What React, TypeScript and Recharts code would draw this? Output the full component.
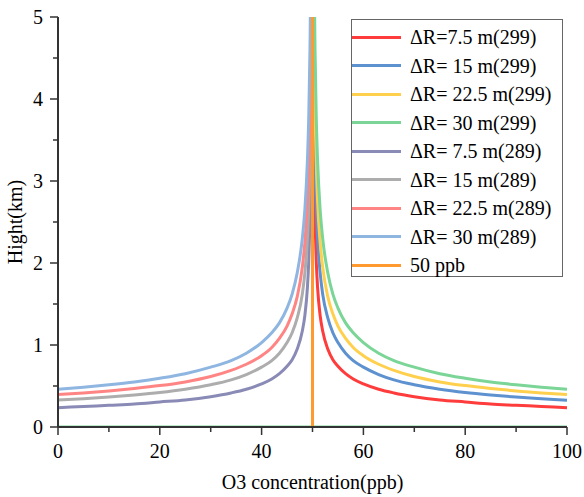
import React from 'react';
import { LineChart, Line, XAxis, YAxis, Legend } from 'recharts';

const FONT = '"Liberation Serif", "Times New Roman", Times, serif';

// distance from the 50 ppb singularity (ppb)
const distances = [0.1, 0.2, 0.3, 0.5, 0.75, 1, 1.5, 2, 3, 4, 5, 6.5, 8, 10, 13, 16, 20, 25, 30, 35, 40, 45, 50];

// heights (km), right side (299 series, x = 50 + d)
const r75_299 = [5.4, 3.9, 3.1, 2.5, 2.0, 1.7, 1.36, 1.17, 0.95, 0.82, 0.74, 0.65, 0.585, 0.525, 0.46, 0.415, 0.37, 0.33, 0.305, 0.28, 0.265, 0.25, 0.235];
const r15_299 = [7.3, 5.2, 4.2, 3.25, 2.65, 2.3, 1.88, 1.62, 1.33, 1.15, 1.03, 0.9, 0.81, 0.73, 0.64, 0.575, 0.515, 0.46, 0.42, 0.39, 0.365, 0.345, 0.325];
const r225_299 = [8.7, 6.2, 5.0, 3.9, 3.2, 2.75, 2.25, 1.95, 1.59, 1.38, 1.23, 1.08, 0.97, 0.87, 0.765, 0.69, 0.615, 0.55, 0.505, 0.47, 0.44, 0.415, 0.395];
const r30_299 = [10.3, 7.3, 5.9, 4.6, 3.75, 3.25, 2.65, 2.3, 1.88, 1.62, 1.45, 1.27, 1.15, 1.03, 0.9, 0.81, 0.73, 0.65, 0.595, 0.55, 0.515, 0.485, 0.46];

// heights (km), left side (289 series, x = 50 - d)
const r75_289 = [5.4, 3.9, 3.1, 2.5, 2.0, 1.7, 1.36, 1.17, 0.95, 0.82, 0.74, 0.65, 0.585, 0.525, 0.46, 0.415, 0.37, 0.33, 0.305, 0.28, 0.265, 0.25, 0.235];
const r15_289 = [7.3, 5.2, 4.2, 3.25, 2.65, 2.3, 1.88, 1.62, 1.33, 1.15, 1.03, 0.9, 0.81, 0.73, 0.64, 0.575, 0.515, 0.46, 0.42, 0.39, 0.365, 0.345, 0.33];
const r225_289 = [8.7, 6.2, 5.0, 3.9, 3.2, 2.75, 2.25, 1.95, 1.59, 1.38, 1.23, 1.08, 0.97, 0.87, 0.765, 0.69, 0.615, 0.55, 0.505, 0.47, 0.44, 0.415, 0.395];
const r30_289 = [10.3, 7.3, 5.9, 4.6, 3.75, 3.25, 2.65, 2.3, 1.88, 1.62, 1.45, 1.27, 1.15, 1.03, 0.9, 0.81, 0.73, 0.65, 0.595, 0.55, 0.515, 0.485, 0.46];

const zeroX = [0, 100];
const zeroY = [0, 0];
const refX = [50, 50];
const refY = [0, 5];

const seriesNames = [
  'ΔR=7.5 m(299)',
  'ΔR= 15 m(299)',
  'ΔR= 22.5 m(299)',
  'ΔR= 30 m(299)',
  'ΔR= 7.5 m(289)',
  'ΔR= 15 m(289)',
  'ΔR= 22.5 m(289)',
  'ΔR= 30 m(289)',
  '50 ppb',
];
const seriesColors = ['#FF3C3C', '#5E91CF', '#FFD04D', '#7BD597', '#8A8AB6', '#ADADAD', '#FF8585', '#8FB5E1', '#FF9A30'];

const xTicks = [0, 10, 20, 30, 40, 50, 60, 70, 80, 90, 100];
const yTicks = [0, 0.5, 1, 1.5, 2, 2.5, 3, 3.5, 4, 4.5, 5];

const rightSide = (h: number[]) => distances.map((d, i) => ({ x: 50 + d, y: h[i] }));
const leftSide = (h: number[]) => distances.map((d, i) => ({ x: 50 - d, y: h[i] })).reverse();
const pairs = (xs: number[], ys: number[]) => xs.map((x, i) => ({ x, y: ys[i] }));

const seriesData = [
  rightSide(r75_299),
  rightSide(r15_299),
  rightSide(r225_299),
  rightSide(r30_299),
  leftSide(r75_289),
  leftSide(r15_289),
  leftSide(r225_289),
  leftSide(r30_289),
];

const AXIS = '#333';

const XTick = (props: any) => {
  const { x, y, payload } = props;
  const major = payload.value % 20 === 0;
  return (
    <g>
      <line x1={x} x2={x} y1={y} y2={y + (major ? 8 : 5)} stroke={AXIS} strokeWidth={1.5} />
      {major && (
        <text x={x} y={y + 31} textAnchor="middle" fontSize={20} fontFamily={FONT} fill="#000">
          {payload.value}
        </text>
      )}
    </g>
  );
};

const YTick = (props: any) => {
  const { x, y, payload } = props;
  const major = Number.isInteger(payload.value);
  return (
    <g>
      <line x1={x - (major ? 8 : 5)} x2={x} y1={y} y2={y} stroke={AXIS} strokeWidth={1.5} />
      {major && (
        <text x={x - 15} y={y + 7} textAnchor="end" fontSize={20} fontFamily={FONT} fill="#000">
          {payload.value}
        </text>
      )}
    </g>
  );
};

const XTitle = (props: any) => {
  const vb = props.viewBox || {};
  return (
    <text x={vb.x + vb.width / 2} y={vb.y + 62} textAnchor="middle" fontSize={20} fontFamily={FONT} fill="#000">
      O3 concentration(ppb)
    </text>
  );
};

const YTitle = (props: any) => {
  const vb = props.viewBox || {};
  const cx = vb.x + 22;
  const cy = vb.y + vb.height / 2;
  return (
    <text x={cx} y={cy} transform={`rotate(-90 ${cx} ${cy})`} textAnchor="middle" fontSize={20} fontFamily={FONT} fill="#000">
      Hight(km)
    </text>
  );
};

const LegendBox = () => (
  <div
    style={{
      width: 212,
      height: 258,
      border: '1px solid #666',
      boxSizing: 'border-box',
      background: '#fff',
      position: 'relative',
      fontFamily: FONT,
    }}
  >
    {seriesNames.map((name, i) => (
      <div
        key={i}
        style={{
          position: 'absolute',
          left: 0,
          top: 3 + 28.5 * i,
          height: 28.5,
          display: 'flex',
          alignItems: 'center',
          whiteSpace: 'pre',
        }}
      >
        <div style={{ width: 49, height: 3, background: seriesColors[i] }} />
        <span style={{ marginLeft: 9, fontSize: 20, lineHeight: 1, color: '#000' }}>{name}</span>
      </div>
    ))}
  </div>
);

export default function App() {
  return (
    <div style={{ width: 584, height: 497, position: 'absolute', left: 0, top: 0, background: '#fff' }}>
      <LineChart width={584} height={497} margin={{ top: 17, right: 17, bottom: 0, left: 0 }}>
        <XAxis
          xAxisId={0}
          dataKey="x"
          type="number"
          domain={[0, 100]}
          ticks={xTicks}
          interval={0}
          height={70}
          tickSize={0}
          tickMargin={0}
          tickLine={false}
          tick={<XTick />}
          axisLine={{ stroke: AXIS, strokeWidth: 2 }}
          label={<XTitle />}
        />
        <XAxis
          xAxisId="top"
          orientation="top"
          dataKey="x"
          type="number"
          domain={[0, 100]}
          height={0}
          tick={false}
          tickLine={false}
          axisLine={{ stroke: AXIS, strokeWidth: 2 }}
        />
        <YAxis
          yAxisId={0}
          type="number"
          domain={[0, 5]}
          ticks={yTicks}
          interval={0}
          allowDataOverflow
          width={58}
          tickSize={0}
          tickMargin={0}
          tickLine={false}
          tick={<YTick />}
          axisLine={{ stroke: AXIS, strokeWidth: 2 }}
          label={<YTitle />}
        />
        <YAxis
          yAxisId="right"
          orientation="right"
          type="number"
          domain={[0, 5]}
          width={0}
          tick={false}
          tickLine={false}
          axisLine={{ stroke: AXIS, strokeWidth: 2 }}
        />
        {seriesData.map((d, i) => (
          <Line
            key={i}
            data={d}
            dataKey="y"
            name={seriesNames[i]}
            type="monotone"
            stroke={seriesColors[i]}
            strokeWidth={3}
            dot={false}
            activeDot={false}
            isAnimationActive={false}
          />
        ))}
        <Line
          data={pairs(zeroX, zeroY)}
          dataKey="y"
          name="zero"
          legendType="none"
          type="linear"
          stroke={seriesColors[3]}
          strokeWidth={3}
          dot={false}
          activeDot={false}
          isAnimationActive={false}
        />
        <Line
          data={pairs(refX, refY)}
          dataKey="y"
          name={seriesNames[8]}
          type="linear"
          stroke={seriesColors[8]}
          strokeWidth={3}
          dot={false}
          activeDot={false}
          isAnimationActive={false}
        />
        <Legend
          layout="vertical"
          align="center"
          verticalAlign="middle"
          wrapperStyle={{ position: 'absolute', left: 351, top: 19, width: 212, height: 258 }}
          content={<LegendBox />}
        />
      </LineChart>
    </div>
  );
}
